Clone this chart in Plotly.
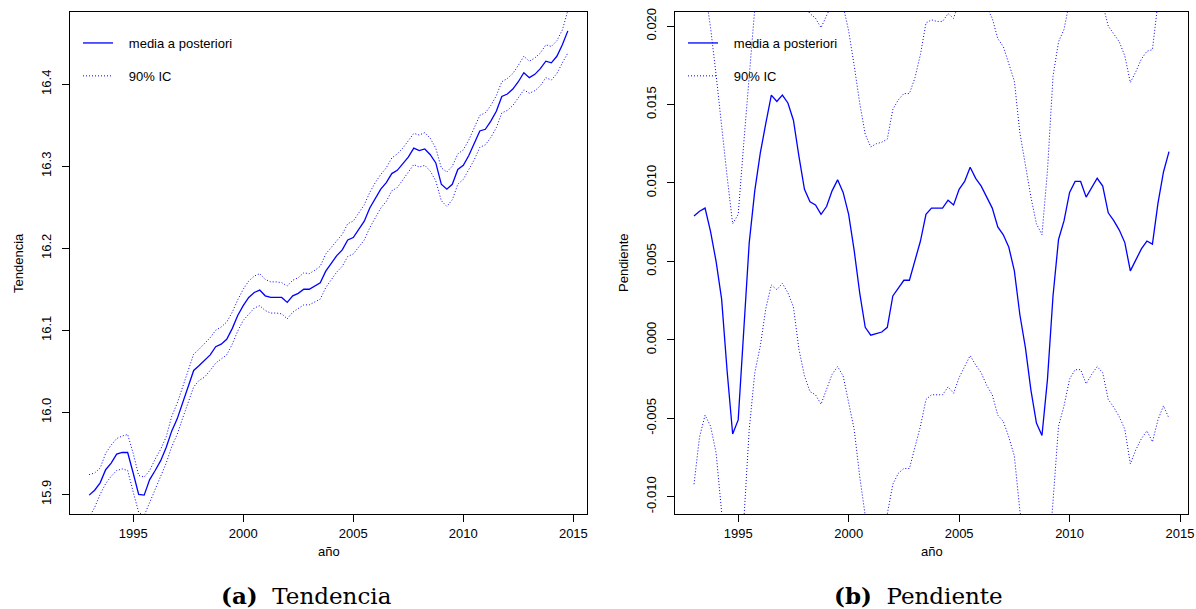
import numpy as np
import plotly.graph_objects as go

# ---------------- data (quarterly, starting 1993 Q1) ----------------
start_year = 1993

tend_mean = [15.899, 15.905, 15.914, 15.930,
             15.938, 15.949, 15.951, 15.951,
             15.926, 15.900, 15.899, 15.918,
             15.929, 15.941, 15.957, 15.977,
             15.992, 16.012, 16.031, 16.051,
             16.057, 16.063, 16.070, 16.080,
             16.083, 16.089, 16.102, 16.118,
             16.130, 16.140, 16.146, 16.149,
             16.142, 16.140, 16.140, 16.140,
             16.134, 16.142, 16.145, 16.150,
             16.150, 16.154, 16.158, 16.172,
             16.182, 16.191, 16.198, 16.210,
             16.213, 16.223, 16.233, 16.249,
             16.261, 16.272, 16.280, 16.291,
             16.295, 16.303, 16.311, 16.322,
             16.319, 16.321, 16.314, 16.304,
             16.278, 16.272, 16.278, 16.296,
             16.301, 16.313, 16.327, 16.343,
             16.345, 16.355, 16.367, 16.385,
             16.388, 16.394, 16.403, 16.414,
             16.408, 16.412, 16.419, 16.428,
             16.426, 16.434, 16.448, 16.465]

tend_upper = [15.924, 15.926, 15.932, 15.950,
              15.960, 15.968, 15.971, 15.973,
              15.950, 15.923, 15.921, 15.929,
              15.943, 15.955, 15.970, 15.995,
              16.011, 16.031, 16.051, 16.071,
              16.077, 16.084, 16.091, 16.100,
              16.104, 16.110, 16.122, 16.137,
              16.150, 16.160, 16.166, 16.169,
              16.162, 16.159, 16.159, 16.158,
              16.154, 16.161, 16.164, 16.170,
              16.169, 16.173, 16.178, 16.193,
              16.201, 16.210, 16.217, 16.230,
              16.233, 16.243, 16.253, 16.268,
              16.280, 16.290, 16.298, 16.310,
              16.315, 16.322, 16.331, 16.340,
              16.338, 16.341, 16.334, 16.322,
              16.298, 16.293, 16.300, 16.315,
              16.320, 16.332, 16.347, 16.362,
              16.365, 16.374, 16.386, 16.403,
              16.407, 16.413, 16.423, 16.434,
              16.428, 16.432, 16.438, 16.448,
              16.446, 16.453, 16.466, 16.490]

tend_lower = [15.872, 15.884, 15.900, 15.913,
              15.922, 15.929, 15.931, 15.929,
              15.903, 15.878, 15.874, 15.890,
              15.904, 15.922, 15.938, 15.958,
              15.973, 15.993, 16.012, 16.031,
              16.039, 16.043, 16.051, 16.060,
              16.065, 16.070, 16.083, 16.099,
              16.112, 16.120, 16.127, 16.130,
              16.124, 16.121, 16.121, 16.120,
              16.114, 16.122, 16.126, 16.131,
              16.131, 16.135, 16.138, 16.152,
              16.162, 16.171, 16.178, 16.190,
              16.193, 16.201, 16.210, 16.225,
              16.237, 16.249, 16.257, 16.270,
              16.274, 16.283, 16.292, 16.302,
              16.299, 16.301, 16.294, 16.282,
              16.258, 16.251, 16.259, 16.278,
              16.284, 16.296, 16.308, 16.323,
              16.326, 16.335, 16.347, 16.365,
              16.368, 16.374, 16.383, 16.393,
              16.389, 16.392, 16.398, 16.408,
              16.405, 16.413, 16.426, 16.438]

pend_mean = [0.0079, 0.0082, 0.0084, 0.0069,
             0.0050, 0.0026, -0.0020, -0.0060,
             -0.0051, 0.0005, 0.0062, 0.0095,
             0.0119, 0.0138, 0.0156, 0.0152,
             0.0156, 0.0151, 0.0140, 0.0117,
             0.0096, 0.0088, 0.0086, 0.0080,
             0.0085, 0.0095, 0.0102, 0.0094,
             0.0080, 0.0057, 0.0030, 0.0008,
             0.0003, 0.0004, 0.0005, 0.0008,
             0.0028, 0.0033, 0.0038, 0.0038,
             0.0050, 0.0063, 0.0080, 0.0084,
             0.0084, 0.0084, 0.0089, 0.0086,
             0.0096, 0.0101, 0.0110, 0.0103,
             0.0098, 0.0091, 0.0084, 0.0072,
             0.0067, 0.0059, 0.0044, 0.0016,
             -0.0005, -0.0032, -0.0053, -0.0061,
             -0.0025, 0.0028, 0.0064, 0.0076,
             0.0094, 0.0101, 0.0101, 0.0091,
             0.0097, 0.0103, 0.0098, 0.0081,
             0.0076, 0.0070, 0.0062, 0.0044,
             0.0051, 0.0058, 0.0063, 0.0061,
             0.0087, 0.0107, 0.0120]

pend_upper = [0.0245, 0.0250, 0.0223, 0.0199,
              0.0169, 0.0135, 0.0104, 0.0074,
              0.0080, 0.0125, 0.0166, 0.0211,
              0.0239, 0.0258, 0.0276, 0.0272,
              0.0276, 0.0271, 0.0260, 0.0237,
              0.0213, 0.0208, 0.0205, 0.0199,
              0.0207, 0.0215, 0.0222, 0.0213,
              0.0197, 0.0175, 0.0151, 0.0131,
              0.0123, 0.0125, 0.0126, 0.0128,
              0.0147, 0.0153, 0.0157, 0.0157,
              0.0167, 0.0182, 0.0202, 0.0204,
              0.0203, 0.0203, 0.0208, 0.0205,
              0.0215, 0.0220, 0.0230, 0.0222,
              0.0218, 0.0212, 0.0205, 0.0192,
              0.0187, 0.0176, 0.0165, 0.0132,
              0.0110, 0.0091, 0.0074, 0.0067,
              0.0108, 0.0168, 0.0190, 0.0198,
              0.0216, 0.0222, 0.0222, 0.0210,
              0.0216, 0.0222, 0.0214, 0.0200,
              0.0195, 0.0190, 0.0181, 0.0164,
              0.0171, 0.0179, 0.0184, 0.0185,
              0.0215, 0.0250, 0.0290]

pend_lower = [-0.0092, -0.0062, -0.0048, -0.0055,
              -0.0072, -0.0108, -0.0145, -0.0185,
              -0.0176, -0.0113, -0.0057, -0.0021,
              -0.0004, 0.0020, 0.0035, 0.0032,
              0.0036, 0.0030, 0.0021, -0.0006,
              -0.0023, -0.0033, -0.0035, -0.0041,
              -0.0032, -0.0022, -0.0017, -0.0023,
              -0.0040, -0.0057, -0.0087, -0.0112,
              -0.0117, -0.0116, -0.0115, -0.0111,
              -0.0092, -0.0085, -0.0082, -0.0082,
              -0.0069, -0.0055, -0.0038, -0.0035,
              -0.0035, -0.0035, -0.0030, -0.0034,
              -0.0024, -0.0017, -0.0010, -0.0016,
              -0.0021, -0.0029, -0.0035, -0.0048,
              -0.0052, -0.0062, -0.0074, -0.0109,
              -0.0127, -0.0155, -0.0175, -0.0183,
              -0.0148, -0.0103, -0.0055, -0.0042,
              -0.0025, -0.0019, -0.0019, -0.0028,
              -0.0022, -0.0017, -0.0021, -0.0038,
              -0.0043, -0.0049, -0.0057, -0.0079,
              -0.0070, -0.0063, -0.0058, -0.0065,
              -0.0051, -0.0042, -0.0050]

x_tickvals = [1995, 2000, 2005, 2010, 2015]
tend_tickvals = [15.9, 16.0, 16.1, 16.2, 16.3, 16.4]
pend_tickvals = [-0.010, -0.005, 0.000, 0.005, 0.010, 0.015, 0.020]
pend_ticktext = ["-0.010", "-0.005", "0.000", "0.005", "0.010", "0.015", "0.020"]

legend_labels = ["media a posteriori", "90% IC"]
captions = ["<b>(a)</b>\u00a0 Tendencia", "<b>(b)</b>\u00a0 Pendiente"]
ylabels = ["Tendencia", "Pendiente"]
xlabel = "año"

# ---------------- figure ----------------
W, H = 1196, 609
BLUE = "#0000FF"
FONT = "Liberation Sans, Arial, sans-serif"
DOT = "1px,2px"

t_tend = start_year + np.arange(len(tend_mean)) / 4.0
t_pend = start_year + np.arange(len(pend_mean)) / 4.0

fig = go.Figure()

pad = "\u00a0\u00a0\u00a0"


def add_panel(t, mean, lo, up, xa, ya, leg):
    fig.add_trace(go.Scatter(x=t, y=mean, mode="lines", xaxis=xa, yaxis=ya,
                             line=dict(color=BLUE, width=1.3),
                             name=pad + legend_labels[0], legend=leg,
                             legendgroup=leg + "m", hoverinfo="skip"))
    fig.add_trace(go.Scatter(x=t, y=up, mode="lines", xaxis=xa, yaxis=ya,
                             line=dict(color=BLUE, width=1, dash=DOT),
                             name=pad + legend_labels[1], legend=leg,
                             legendgroup=leg + "ic", hoverinfo="skip"))
    fig.add_trace(go.Scatter(x=t, y=lo, mode="lines", xaxis=xa, yaxis=ya,
                             line=dict(color=BLUE, width=1, dash=DOT),
                             showlegend=False, legend=leg,
                             legendgroup=leg + "ic", hoverinfo="skip"))


add_panel(t_tend, tend_mean, tend_lower, tend_upper, "x", "y", "legend")
add_panel(t_pend, pend_mean, pend_lower, pend_upper, "x2", "y2", "legend2")

y_dom = [1 - 514 / H, 1 - 12 / H]
axis_common = dict(showline=True, mirror=True, linecolor="black", linewidth=1,
                   ticks="outside", ticklen=7, tickcolor="black", tickwidth=1,
                   showgrid=False, zeroline=False, automargin=False,
                   tickfont=dict(family=FONT, size=13, color="black"))

fig.update_layout(
    xaxis=dict(domain=[70 / W, 587 / W], range=[1992.13, 2015.62],
               tickvals=x_tickvals, anchor="y", **axis_common),
    yaxis=dict(domain=y_dom, range=[15.876, 16.488], tickvals=tend_tickvals,
               tickformat=".1f", tickangle=-90, anchor="x",
               ticklabelstandoff=6, **axis_common),
    xaxis2=dict(domain=[675 / W, 1188 / W], range=[1992.14, 2015.36],
                tickvals=x_tickvals, anchor="y2", **axis_common),
    yaxis2=dict(domain=y_dom, range=[-0.0111, 0.0209], tickvals=pend_tickvals,
                ticktext=pend_ticktext, tickangle=-90, anchor="x2",
                ticklabelstandoff=6, **axis_common),
)

leg_common = dict(bgcolor="rgba(0,0,0,0)", borderwidth=0,
                  font=dict(family=FONT, size=13, color="black"),
                  traceorder="grouped", tracegroupgap=13,
                  xanchor="left", yanchor="top", itemwidth=30)
fig.update_layout(
    legend=dict(x=78 / W, y=1 - 28 / H, **leg_common),
    legend2=dict(x=683 / W, y=1 - 28 / H, **leg_common),
)

annots = []
for i, (cx, px) in enumerate([(306, 329), (918, 932)]):
    annots.append(dict(text=captions[i], x=cx / W, y=1 - 595 / H, xref="paper", yref="paper",
                       showarrow=False, xanchor="center", yanchor="middle",
                       font=dict(family="DejaVu Serif, serif", size=23, color="black")))
    annots.append(dict(text=xlabel, x=px / W, y=1 - 551 / H, xref="paper", yref="paper",
                       showarrow=False, xanchor="center", yanchor="middle",
                       font=dict(family=FONT, size=13, color="black")))
for i, lx in enumerate([18, 623]):
    annots.append(dict(text=ylabels[i], x=lx / W, y=1 - 263 / H, xref="paper", yref="paper",
                       showarrow=False, xanchor="center", yanchor="middle", textangle=-90,
                       font=dict(family=FONT, size=13, color="black")))

fig.update_layout(
    width=W, height=H, template="none",
    margin=dict(l=0, r=0, t=0, b=0),
    paper_bgcolor="white", plot_bgcolor="white",
    annotations=annots,
)

fig.write_html("out.html", config={"displayModeBar": False})
